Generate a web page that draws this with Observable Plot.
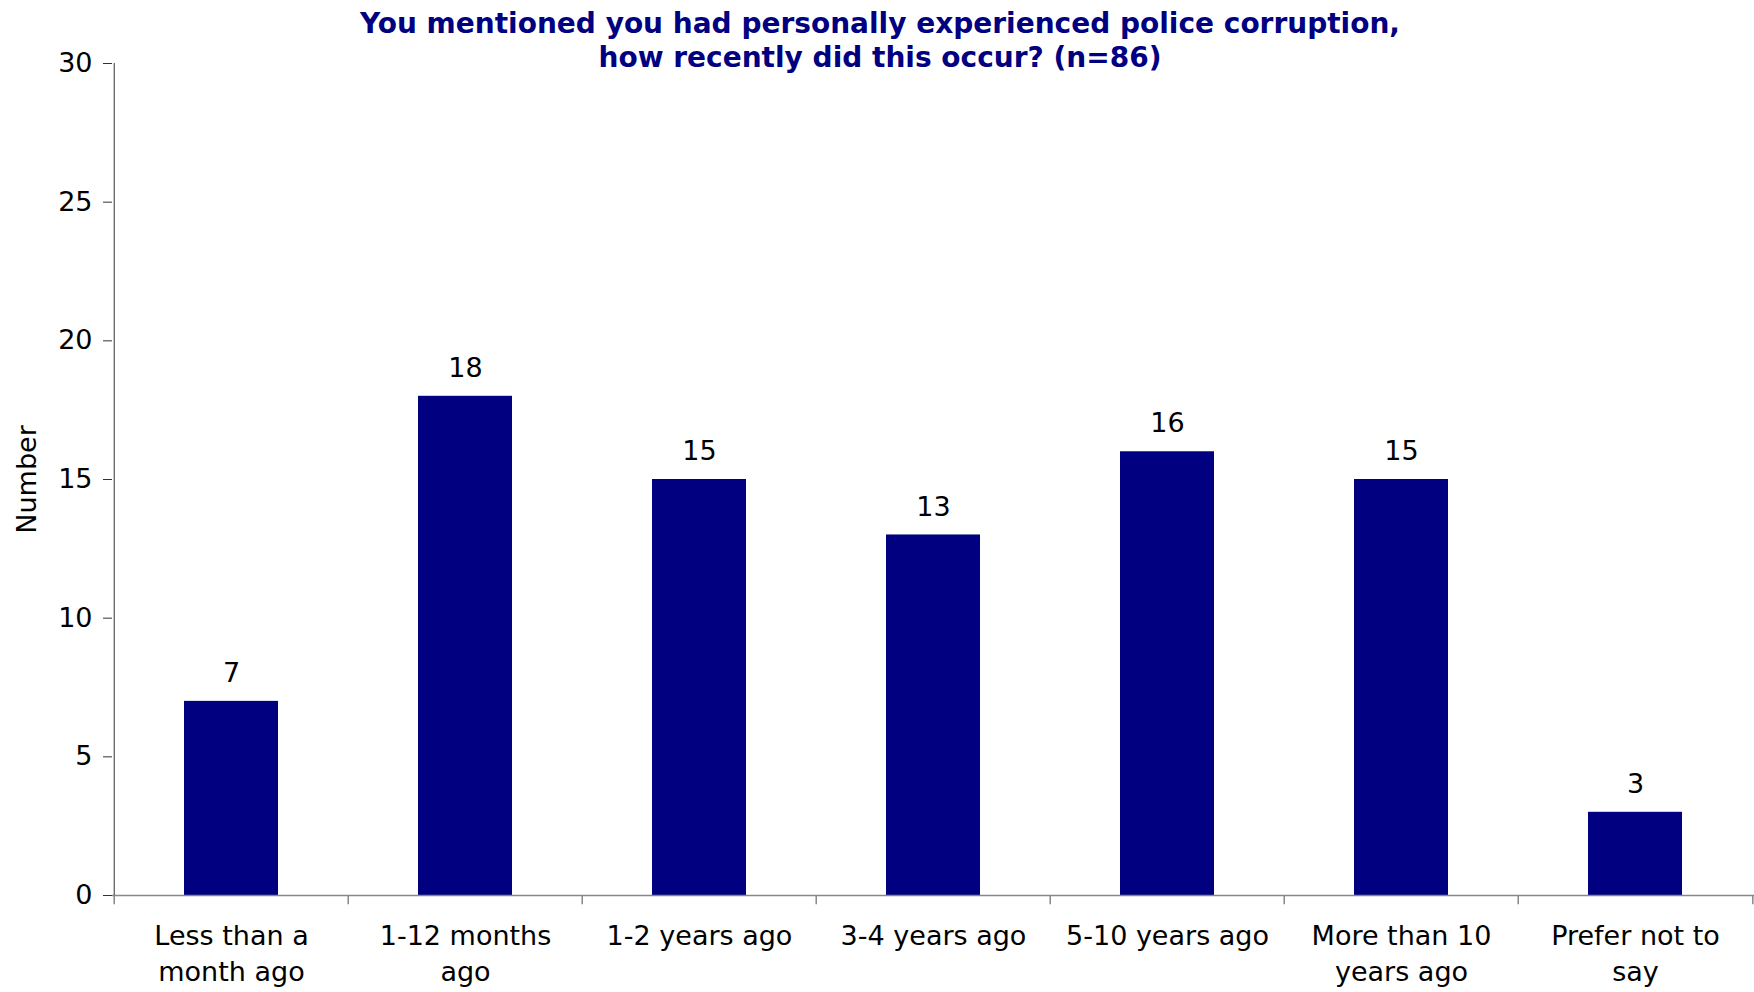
<!DOCTYPE html>
<html>
<head>
<meta charset="utf-8">
<script src="https://cdn.jsdelivr.net/npm/d3@7"></script>
<script src="https://cdn.jsdelivr.net/npm/@observablehq/plot@0.6"></script>
<style>
  html, body { margin: 0; padding: 0; background: #fff; }
  #wrap { position: relative; width: 1754px; height: 992px; }
  #title {
    position: absolute; left: 0; top: 7px; width: 1760px;
    text-align: center; font-family: "DejaVu Sans", Verdana, sans-serif;
    font-weight: bold; font-size: 28px; line-height: 34px; color: #000080;
  }
  #chart svg { display: block; }
</style>
</head>
<body>
<div id="wrap">
  <div id="chart"></div>
  <div id="title">You mentioned you had personally experienced police corruption,<br>how recently did this occur? (n=86)</div>
</div>
<script>
const categories = [
  "Less than a\nmonth ago",
  "1-12 months\nago",
  "1-2 years ago",
  "3-4 years ago",
  "5-10 years ago",
  "More than 10\nyears ago",
  "Prefer not to\nsay"
];
const values = [7, 18, 15, 13, 16, 15, 3];
const yTicks = [0, 5, 10, 15, 20, 25, 30];

const data = categories.map((c, i) => ({category: c, value: values[i]}));

const W = 1754, H = 992;
const mL = 112, mR = 0, mT = 63, mB = 97;
const step = (W - mL - mR) / categories.length;
const font = "DejaVu Sans, Verdana, sans-serif";

const chart = Plot.plot({
  width: W,
  height: H,
  marginLeft: mL,
  marginRight: mR,
  marginTop: mT,
  marginBottom: mB,
  style: {fontFamily: font, fontSize: "27px", color: "#000", background: "#fff", overflow: "visible"},
  x: {domain: categories, paddingInner: 0.6, paddingOuter: 0.3, align: 0.5},
  y: {domain: [0, 30]},
  marks: [
    Plot.barY(data, {x: "category", y: "value", fill: "#000080"}),
    Plot.ruleY([0], {stroke: "#888", strokeWidth: 1.5}),
    Plot.ruleX(categories, {x: d => d, y1: 0, y2: -0.33, dx: -step / 2, stroke: "#888", strokeWidth: 1.5, clip: false}),
    Plot.ruleX([categories[categories.length - 1]], {x: d => d, y1: 0, y2: -0.33, dx: step / 2, stroke: "#888", strokeWidth: 1.5}),
    Plot.ruleX([0], {x: () => categories[0], y1: 0, y2: 30, dx: -step / 2, stroke: "#333", strokeWidth: 1}),
    Plot.axisY({
      ticks: yTicks, tickSize: 9, tickPadding: 11, stroke: "#333",
      fontSize: 27, label: "Number", labelAnchor: "center", labelArrow: "none", labelOffset: 96
    }),
    Plot.axisX({tickSize: 0, tickPadding: 24, fontSize: 27, lineHeight: 1.33, label: null}),
    Plot.text(data, {x: "category", y: "value", text: d => String(d.value), dy: -28, fontSize: 27, fill: "#000"})
  ]
});
document.getElementById("chart").appendChild(chart);
</script>
</body>
</html>
